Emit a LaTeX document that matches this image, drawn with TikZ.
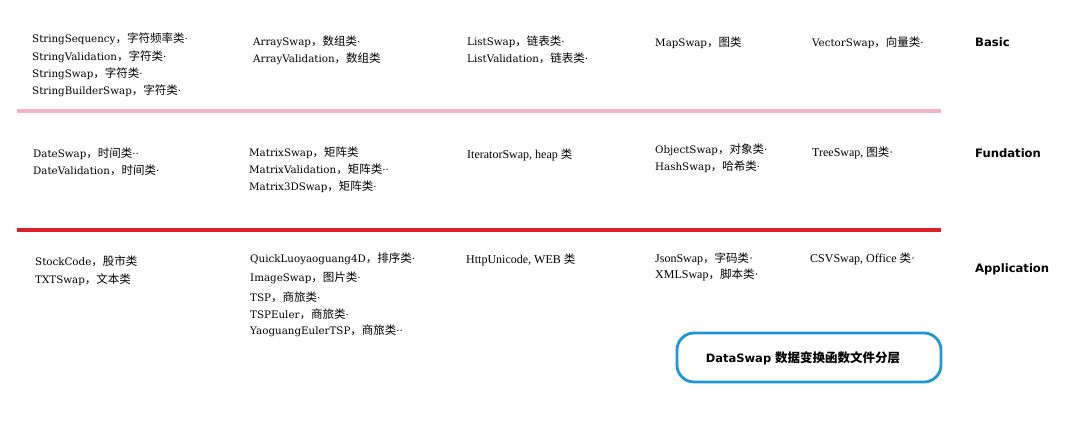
\documentclass[tikz,border=0pt]{standalone}
\usepackage{fontspec}
\newfontfamily\lat{DejaVu Serif}
\newfontfamily\tms{Liberation Serif}
\newfontfamily\cjk{Noto Sans CJK SC}
\newfontfamily\lab{DejaVu Sans}
\newcommand{\zh}[1]{{\cjk\fontsize{11.5}{12}\selectfont #1}}
\newcommand{\zhb}[1]{{\cjk\bfseries\fontsize{12.5}{14}\selectfont #1}}
\definecolor{pinkline}{RGB}{247,178,202}
\definecolor{redline}{RGB}{222,32,40}
\definecolor{boxblue}{RGB}{28,150,212}
\tikzset{
  item/.style={anchor=base west, inner sep=0pt, font=\lat\fontsize{10.3}{11}\selectfont},
  titem/.style={anchor=base west, inner sep=0pt, font=\tms\fontsize{12}{13}\selectfont},
  layer/.style={anchor=base west, inner sep=0pt, font=\lab\bfseries\fontsize{11.6}{13}\selectfont},
  sep/.style={line width=4.5pt},
  titlebox/.style={draw=boxblue, line width=2.8pt, rounded corners=17pt, fill=white}
}
\begin{document}
\begin{tikzpicture}[x=1pt,y=-1pt]
\useasboundingbox (0,0) rectangle (1079,424);
% Basic row
\node[item] (s1) at (32,42) {StringSequency\zh{，字符频率类}·};
\node[item] (s2) at (32,60) {StringValidation\zh{，字符类}·};
\node[item] (s3) at (32,77) {StringSwap\zh{，字符类}·};
\node[item] (s4) at (32,94) {StringBuilderSwap\zh{，字符类}·};
\node[item] (a1) at (253,45) {ArraySwap\zh{，数组类}·};
\node[item] (a2) at (253,62) {ArrayValidation\zh{，数组类}};
\node[item] (l1) at (467,45) {ListSwap\zh{，链表类}·};
\node[item] (l2) at (467,62) {ListValidation\zh{，链表类}·};
\node[item] (m1) at (655,46) {MapSwap\zh{，图类}};
\node[item] (v1) at (812,46) {VectorSwap\zh{，向量类}·};
\node[layer] (basic) at (975,46) {Basic};
\coordinate (p1) at (17,111);
\coordinate (p2) at (941,111);
\draw[sep, pinkline] (p1) -- (p2);
% Fundation row
\node[item] (d1) at (33,157) {DateSwap\zh{，时间类}··};
\node[item] (d2) at (33,174) {DateValidation\zh{，时间类}·};
\node[item] (x1) at (249,156) {MatrixSwap\zh{，矩阵类}};
\node[item] (x2) at (249,173) {MatrixValidation\zh{，矩阵类}··};
\node[item] (x3) at (249,190) {Matrix3DSwap\zh{，矩阵类}·};
\node[titem] (i1) at (467,158) {IteratorSwap, heap \zh{类}};
\node[item] (o1) at (655,153) {ObjectSwap\zh{，对象类}·};
\node[item] (h1) at (655,170) {HashSwap\zh{，哈希类}·};
\node[titem] (t1) at (812,156) {TreeSwap, \zh{图类}·};
\node[layer] (fund) at (975,157) {Fundation};
\coordinate (r1) at (17,230);
\coordinate (r2) at (941,230);
\draw[sep, redline] (r1) -- (r2);
% Application row
\node[item] (k1) at (35,265) {StockCode\zh{，股市类}};
\node[item] (k2) at (35,283) {TXTSwap\zh{，文本类}};
\node[item] (q1) at (250,262) {QuickLuoyaoguang4D\zh{，排序类}·};
\node[item] (q2) at (250,281) {ImageSwap\zh{，图片类}·};
\node[item] (q3) at (250,301) {TSP\zh{，商旅类}·};
\node[item] (q4) at (250,318) {TSPEuler\zh{，商旅类}·};
\node[item] (q5) at (250,334) {YaoguangEulerTSP\zh{，商旅类}··};
\node[titem] (u1) at (466,263) {HttpUnicode, WEB \zh{类}};
\node[titem] (j1) at (655,262) {JsonSwap\zh{，字码类}·};
\node[titem] (j2) at (655,278) {XMLSwap\zh{，脚本类}·};
\node[titem] (c1) at (810,262) {CSVSwap, Office \zh{类}·};
\node[layer] (app) at (975,272) {Application};
% title box
\draw[titlebox] (677,333) rectangle (941,382);
\node[inner sep=0pt, font=\lab\bfseries\fontsize{11.5}{13}\selectfont] (title) at (803,358) {DataSwap \zhb{数据变换函数文件分层}};
\end{tikzpicture}
\end{document}
